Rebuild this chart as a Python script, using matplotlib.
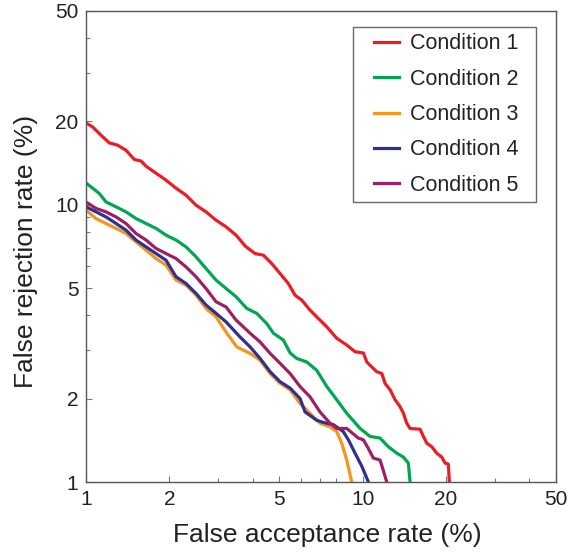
import matplotlib
matplotlib.use("Agg")
import matplotlib.pyplot as plt
from matplotlib.ticker import FixedLocator, NullFormatter
from matplotlib.legend_handler import HandlerLine2D

plt.rcParams['font.family'] = ['Liberation Sans', 'DejaVu Sans']

labels = ["Condition 1", "Condition 2", "Condition 3", "Condition 4", "Condition 5"]
colors = ["#ED1C24", "#00A651", "#F7941D", "#2E3192", "#9E1F63"]

far1 = [1.0, 1.057, 1.133, 1.214, 1.302, 1.395, 1.495, 1.58, 1.648, 1.791, 1.946, 2.115, 2.299, 2.498,
        2.715, 2.951, 3.208, 3.486, 3.767, 4.083, 4.375, 4.692, 5.028, 5.388, 5.696, 6.023, 6.452, 6.914,
        7.417, 8.06, 8.76, 9.39, 10.06, 10.35, 10.79, 11.24, 11.73, 12.05, 12.57, 13.10, 13.65, 14.04,
        14.43, 14.84, 16.13, 16.58, 17.06, 17.78, 18.53, 19.32, 19.86, 20.41, 20.58]
frr1 = [19.73, 19.09, 17.82, 16.72, 16.40, 15.73, 14.57, 14.39, 13.78, 13.0, 12.27, 11.48, 10.83, 9.97,
        9.43, 8.80, 8.33, 7.77, 7.09, 6.67, 6.58, 6.14, 5.65, 5.20, 4.72, 4.53, 4.17, 3.89,
        3.63, 3.30, 3.12, 2.95, 2.92, 2.71, 2.60, 2.50, 2.46, 2.27, 2.15, 1.98, 1.87, 1.77,
        1.63, 1.56, 1.55, 1.46, 1.38, 1.34, 1.27, 1.23, 1.17, 1.16, 1.0]

far2 = [1.0, 1.117, 1.181, 1.284, 1.395, 1.516, 1.648, 1.791, 1.946, 2.115, 2.299, 2.498, 2.715, 2.951,
        3.208, 3.486, 3.81, 4.14, 4.50, 4.76, 5.17, 5.47, 5.78, 6.28, 6.82, 7.42, 8.06, 8.76, 9.79,
        10.64, 11.56, 12.39, 13.29, 14.04, 14.63, 14.84]
frr2 = [11.99, 10.98, 10.24, 9.83, 9.43, 8.92, 8.56, 8.22, 7.77, 7.46, 7.05, 6.49, 5.89, 5.35,
        4.99, 4.66, 4.23, 4.06, 3.73, 3.44, 3.25, 2.92, 2.79, 2.71, 2.53, 2.21, 1.98, 1.77, 1.56,
        1.46, 1.44, 1.34, 1.27, 1.23, 1.17, 1.0]

far3 = [1.0, 1.087, 1.181, 1.284, 1.395, 1.516, 1.648, 1.791, 1.946, 2.115, 2.299, 2.498, 2.715, 2.951,
        3.23, 3.51, 3.92, 4.26, 4.63, 5.03, 5.47, 5.94, 6.45, 7.01, 7.62, 8.06, 8.40, 8.76, 9.13]
frr3 = [9.56, 8.92, 8.56, 8.22, 7.88, 7.35, 6.86, 6.40, 6.06, 5.35, 5.13, 4.72, 4.23, 3.94,
        3.44, 3.07, 2.91, 2.75, 2.46, 2.27, 2.15, 1.92, 1.77, 1.63, 1.58, 1.52, 1.38, 1.20, 1.0]

far4 = [1.0, 1.087, 1.181, 1.284, 1.395, 1.516, 1.648, 1.791, 1.946, 2.115, 2.299, 2.498, 2.715, 2.951,
        3.208, 3.60, 3.92, 4.26, 4.63, 5.03, 5.47, 5.94, 6.19, 6.82, 7.21, 7.84, 8.51, 8.88, 9.39,
        9.93, 10.49]
frr4 = [9.83, 9.43, 9.04, 8.56, 8.10, 7.46, 7.05, 6.67, 6.31, 5.50, 5.20, 4.79, 4.35, 4.06,
        3.78, 3.34, 3.07, 2.79, 2.50, 2.30, 2.18, 2.00, 1.79, 1.67, 1.64, 1.61, 1.52, 1.42, 1.27,
        1.14, 1.0]

far5 = [1.0, 1.087, 1.181, 1.284, 1.395, 1.516, 1.648, 1.791, 1.946, 2.115, 2.299, 2.498, 2.715, 2.951,
        3.208, 3.486, 3.92, 4.26, 4.63, 5.03, 5.47, 5.94, 6.45, 7.01, 7.62, 8.06, 8.76, 9.65, 10.06,
        10.49, 10.93, 11.56, 11.88, 12.22]
frr5 = [10.24, 9.70, 9.43, 9.04, 8.56, 7.88, 7.46, 6.96, 6.67, 6.40, 5.97, 5.50, 4.99, 4.47,
        4.28, 3.84, 3.44, 3.20, 2.91, 2.68, 2.46, 2.21, 2.03, 1.79, 1.63, 1.56, 1.56, 1.44, 1.42,
        1.32, 1.22, 1.20, 1.10, 1.0]

major_ticks = [1, 2, 5, 10, 20, 50]
minor_ticks = [3, 4, 6, 7, 8, 9, 30, 40]

W, H = 568, 556
fig = plt.figure(figsize=(W / 100, H / 100), dpi=100)
ax = fig.add_axes([86 / W, 74 / H, 470 / W, 471 / H])

series = [(far1, frr1), (far2, frr2), (far3, frr3), (far4, frr4), (far5, frr5)]
for (fx, fy), lab, col in zip(series, labels, colors):
    ax.plot(fx, fy, color=col, lw=2.3, label=lab, solid_joinstyle='round')

ax.set_xscale('log')
ax.set_yscale('log')
ax.set_xlim(1, 50)
ax.set_ylim(1, 50)
for axis in (ax.xaxis, ax.yaxis):
    axis.set_major_locator(FixedLocator(major_ticks))
    axis.set_minor_locator(FixedLocator(minor_ticks))
    axis.set_minor_formatter(NullFormatter())
ax.set_xticklabels([str(t) for t in major_ticks])
ax.set_yticklabels([str(t) for t in major_ticks])

ax.tick_params(which='both', direction='in', color='#777777', width=0.8,
               top=False, right=False)
ax.tick_params(which='major', length=4, labelsize=15, labelcolor='#222222', pad=5.5)
ax.tick_params(which='minor', length=3)
for sp in ax.spines.values():
    sp.set_color('#555555')
    sp.set_linewidth(1.0)

ax.set_xlabel("False acceptance rate (%)", fontsize=19, color='#222222')
ax.xaxis.set_label_coords((327.5 - 86) / 470, -(542 - 482) / 471)
ax.xaxis.label.set_verticalalignment('baseline')
ax.set_ylabel("False rejection rate (%)", fontsize=19, color='#222222')
ax.yaxis.set_label_coords((33 - 86) / 470, (482 - 251.5) / 471)
ax.yaxis.label.set_verticalalignment('baseline')


class ShiftedLine(HandlerLine2D):
    def create_artists(self, legend, orig_handle, xdescent, ydescent, width, height, fontsize, trans):
        shift = 0.67 * fontsize
        return super().create_artists(legend, orig_handle, xdescent - shift, ydescent,
                                      width - shift, height, fontsize, trans)


leg = ax.legend(loc='upper left', bbox_to_anchor=(353 / W, (H - 202) / H, 183 / W, 175 / H),
                bbox_transform=fig.transFigure, mode='expand', fontsize=15.5, frameon=True,
                fancybox=False, handlelength=1.835, handletextpad=0.51, labelspacing=0.665,
                borderpad=0.3, borderaxespad=0, handler_map={plt.Line2D: ShiftedLine()})
leg.get_frame().set_edgecolor('#444444')
leg.get_frame().set_linewidth(1.0)
for t in leg.get_texts():
    t.set_color('#222222')

fig.savefig("out.png", dpi=100)
